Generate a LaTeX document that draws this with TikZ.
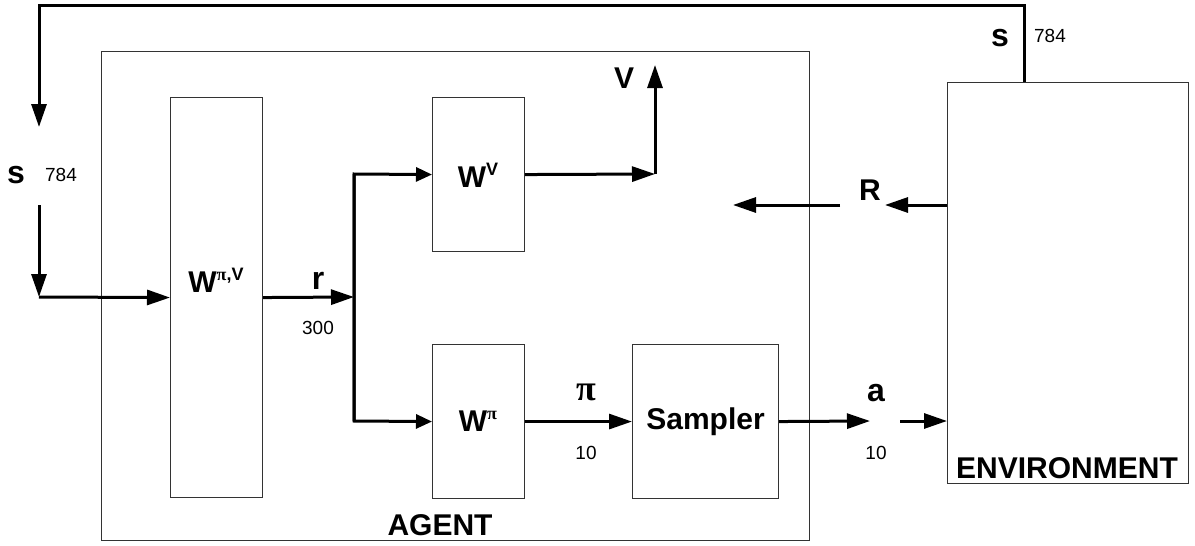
\documentclass[tikz,border=0pt]{standalone}
\usepackage{fontspec}
\setmainfont{Liberation Sans}
\newfontfamily\pifont{Liberation Serif}
\usetikzlibrary{arrows.meta}
\newcommand{\pisym}{{\pifont π}}
\newcommand{\bpisym}{{\pifont\bfseries π}}
\begin{document}
\begin{tikzpicture}[x=1pt,y=-1pt,
  box/.style={draw=black!80,line width=1.1pt,inner sep=0pt,anchor=north west},
  flow/.style={line width=3pt,-{Triangle[length=23pt,width=15pt]}},
  sflow/.style={line width=3pt,-{Triangle[length=16pt,width=14pt]}},
  wire/.style={line width=3pt},
  big/.style={font=\fontsize{30}{32}\selectfont\bfseries,inner sep=0pt},
  wlab/.style={font=\fontsize{30}{32}\selectfont\bfseries,inner sep=0pt},
  slab/.style={font=\fontsize{32}{34}\selectfont\bfseries,inner sep=0pt},
  num/.style={font=\fontsize{19}{22}\selectfont,inner sep=0pt},
]
\useasboundingbox (0,0) rectangle (1195,546);
% boxes
\node[box,minimum width=708pt,minimum height=489pt] (agent) at (101,51) {};
\node[box,minimum width=92pt,minimum height=400pt] (wpv) at (170,97) {};
\node[box,minimum width=92pt,minimum height=154pt] (wv) at (432,97) {};
\node[box,minimum width=92pt,minimum height=154pt] (wp) at (432,344) {};
\node[box,minimum width=146pt,minimum height=154pt,font=\fontsize{30}{32}\selectfont\bfseries] (samp) at (632,344) {Sampler};
\node[box,minimum width=241pt,minimum height=401pt] (env) at (947,82) {};
% box labels
\node[big] (agentlbl) at (440,525) {AGENT};
\node[big] (envlbl) at (1067,468) {ENVIRONMENT};
\node[wlab] (wpvlbl) at (216,280) {W\raisebox{0.4em}{\fontsize{18}{18}\selectfont\pisym,V}};
\node[wlab] (wvlbl) at (478,175) {W\raisebox{0.4em}{\fontsize{18}{18}\selectfont V}};
\node[wlab] (wplbl) at (478,421) {W\raisebox{0.4em}{\fontsize{18}{18}\selectfont\pisym}};
% coordinates
\coordinate (etop) at (1024,82);
\coordinate (tr) at (1024,5);
\coordinate (tl) at (39,5);
\coordinate (s1) at (39,127);
\coordinate (s2) at (39,205);
\coordinate (s3) at (39,297);
\coordinate (rj) at (354,297);
\coordinate (vt) at (354,174);
\coordinate (vb) at (354,421);
\coordinate (vj) at (655,174);
\coordinate (vtop) at (655,65);
\coordinate (er) at (947,205);
\coordinate (rt) at (885,205);
\coordinate (r2) at (840,205);
\coordinate (r3) at (733,205);
\coordinate (at) at (870,421);
\coordinate (as) at (900,421);
\coordinate (ea) at (947,421);
% connectors
\draw[flow] (etop) -- (tr) -- (tl) -- (s1);
\draw[flow] (s2) -- (s3);
\draw[flow] (s3) -- (wpv.west);
\draw[flow] (wpv.east) -- (rj);
\draw[sflow] (vb) -- (vt) -- (wv.west);
\draw[sflow] (vt) -- (vb) -- (wp.west);
\draw[flow] (wv.east) -- (vj);
\draw[flow] (vj) -- (vtop);
\draw[flow] (er) -- (rt);
\draw[flow] (r2) -- (r3);
\draw[flow] (wp.east) -- (samp.west);
\draw[flow] (samp.east) -- (at);
\draw[flow] (as) -- (ea);
% connector labels
\node[slab] (slbl) at (16,175) {s};
\node[num] (snum) at (61,175) {784};
\node[slab] (slbl2) at (1000,38) {s};
\node[num] (snum2) at (1050,36) {784};
\node[slab] (rlbl) at (318,281) {r};
\node[num] (rnum) at (318,328) {300};
\node[big] (vlbl) at (624,78) {V};
\node[big] (Rlbl) at (870,190) {R};
\node[inner sep=0pt,font=\fontsize{36}{36}\selectfont] (pilbl) at (586,392) {\bpisym};
\node[num] (pinum) at (586,453) {10};
\node[slab] (albl) at (876,393) {a};
\node[num] (anum) at (876,453) {10};
\end{tikzpicture}
\end{document}
